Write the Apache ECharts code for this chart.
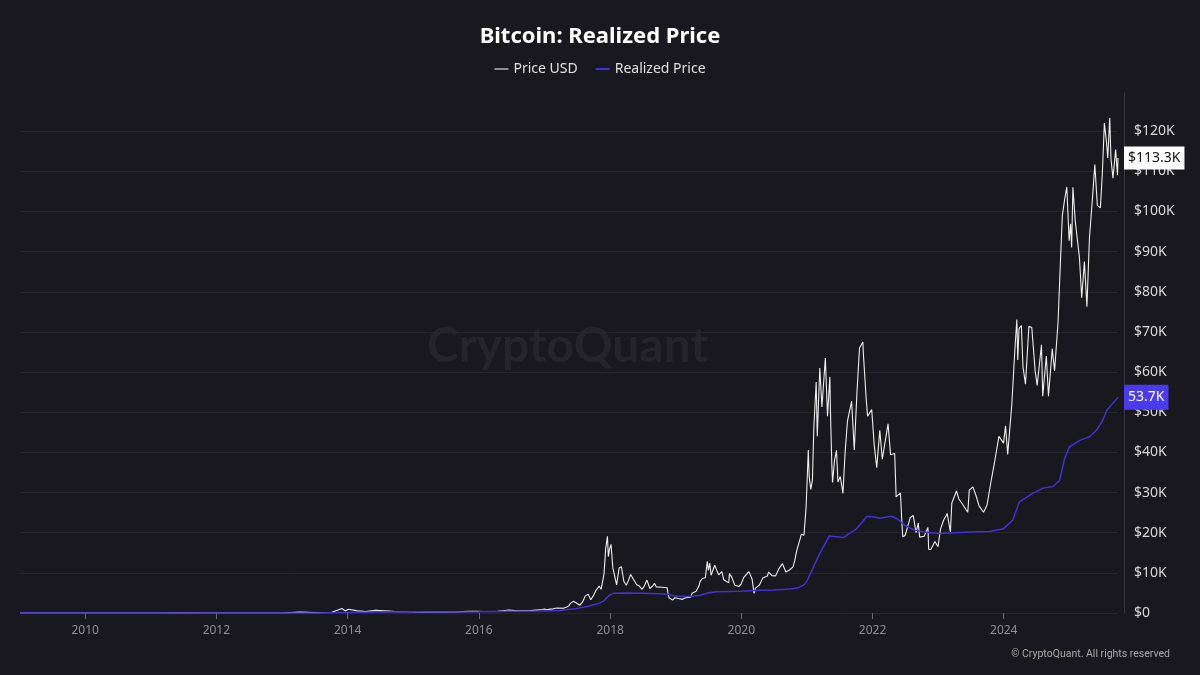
<!DOCTYPE html>
<html>
<head>
<meta charset="utf-8">
<script src="https://cdn.jsdelivr.net/npm/echarts@6/dist/echarts.min.js"></script>
<style>
html,body{margin:0;padding:0;background:#19181e;}
#chart{width:1200px;height:675px;}
</style>
</head>
<body>
<div id="chart"></div>
<script>
const priceDates = [
'2009-01-03','2010-07-17','2011-02-01','2011-06-08','2011-11-18','2012-06-01','2012-12-31','2013-04-09','2013-07-01','2013-10-01',
'2013-11-30','2013-12-18','2014-01-05','2014-02-25','2014-04-10','2014-06-05','2014-08-18','2014-10-05','2014-12-15','2015-01-14',
'2015-03-10','2015-06-01','2015-08-20','2015-11-04','2015-12-20','2016-02-01','2016-04-15','2016-06-17','2016-08-02','2016-10-15',
'2016-12-20',
'2017-01-01','2017-01-15','2017-02-01','2017-02-15','2017-03-01','2017-03-15','2017-03-25','2017-04-15','2017-05-01','2017-05-15',
'2017-05-25','2017-06-10','2017-06-25','2017-07-15','2017-08-01','2017-08-15','2017-09-01','2017-09-15','2017-10-01','2017-10-15',
'2017-11-01','2017-11-12','2017-11-28','2017-12-07','2017-12-17','2017-12-22','2017-12-28',
'2018-01-06','2018-01-16','2018-01-25','2018-02-06','2018-02-20','2018-03-05','2018-03-18','2018-04-01','2018-04-12','2018-04-25','2018-05-05','2018-05-28',
'2018-06-10','2018-06-28','2018-07-10','2018-07-25','2018-08-10','2018-08-25','2018-09-05','2018-09-15','2018-10-15','2018-11-14','2018-11-20',
'2018-11-25','2018-12-15','2018-12-28',
'2019-01-15','2019-02-08','2019-02-25','2019-03-25','2019-04-02','2019-04-25','2019-05-12','2019-05-17','2019-05-30','2019-06-15','2019-06-26',
'2019-07-02','2019-07-10','2019-07-17','2019-07-28','2019-08-06','2019-08-28','2019-09-15','2019-09-25','2019-10-23','2019-10-27','2019-11-10','2019-11-25',
'2019-12-18','2019-12-31',
'2020-01-14','2020-02-12','2020-03-01','2020-03-12','2020-03-20','2020-04-10','2020-04-30','2020-05-10','2020-05-25','2020-06-01','2020-06-20',
'2020-07-10','2020-07-28','2020-08-17','2020-09-05','2020-09-25','2020-10-15','2020-10-25','2020-11-05','2020-11-25','2020-11-30','2020-12-15',
'2020-12-27',
'2021-01-08','2021-01-13','2021-01-22','2021-01-31','2021-02-08','2021-02-21','2021-02-27','2021-03-13','2021-03-25','2021-04-13','2021-04-25',
'2021-05-08','2021-05-12','2021-05-19','2021-05-23','2021-06-03','2021-06-14','2021-06-22','2021-07-05','2021-07-20','2021-08-01','2021-08-14',
'2021-09-06','2021-09-21','2021-10-06','2021-10-20','2021-11-08','2021-11-10','2021-11-26','2021-12-04','2021-12-27',
'2022-01-10','2022-01-24','2022-02-10','2022-02-24','2022-03-28','2022-04-11','2022-05-04','2022-05-12','2022-06-05','2022-06-13',
'2022-06-18','2022-07-01','2022-07-30','2022-08-15','2022-08-31','2022-09-12','2022-09-20','2022-10-15','2022-11-05','2022-11-09',
'2022-11-21','2022-12-14','2022-12-31',
'2023-01-14','2023-01-31','2023-02-15','2023-02-20','2023-03-10','2023-03-18','2023-04-13','2023-04-26','2023-05-15','2023-06-15',
'2023-06-23','2023-07-13','2023-07-31','2023-08-17','2023-09-11','2023-09-30','2023-10-23','2023-11-10','2023-12-05','2023-12-31',
'2024-01-11','2024-01-23','2024-02-15','2024-02-28','2024-03-05','2024-03-14','2024-03-19','2024-03-26','2024-04-08','2024-04-17','2024-05-01',
'2024-05-20','2024-06-05','2024-06-24','2024-07-05','2024-07-29','2024-08-05','2024-08-25','2024-09-06','2024-09-27','2024-10-10',
'2024-10-29','2024-11-12','2024-11-22','2024-12-05','2024-12-17','2024-12-30',
'2025-01-07','2025-01-13','2025-01-20','2025-02-02','2025-02-25','2025-03-10','2025-03-25','2025-04-08','2025-04-22','2025-05-10','2025-05-22',
'2025-06-05','2025-06-22','2025-07-03','2025-07-14','2025-07-25','2025-08-02','2025-08-13','2025-08-20','2025-08-31','2025-09-15','2025-09-25',
'2025-09-28'
];
const priceValues = [
0,0.05,1,29,2.3,5.3,13.5,230,90,125,
1130,520,950,530,360,660,470,320,350,180,
290,225,235,400,440,375,430,760,520,640,
890,
1000,820,970,1010,1190,1240,960,1180,1420,1730,
2400,2900,2550,1930,2740,4200,4700,3300,4400,5700,
6700,5900,9800,16000,19100,14000,15800,
17100,11300,11600,7000,11200,11500,7900,6900,8000,9600,9800,7100,
6800,5900,6700,8200,6100,6700,7400,6500,6400,6300,4600,
3800,3200,3800,
3600,3400,3800,3950,4900,5400,7000,7900,8600,8800,12900,
10600,12400,9400,9500,11900,9500,10300,8300,7500,9800,8800,7000,
6600,7200,
8800,10300,8500,4900,6200,6900,8700,8600,9200,10200,9300,
9250,11000,12300,10200,10700,11500,13100,15600,18700,19600,19400,
26500,
40600,34000,30800,33100,46300,57500,44000,61000,51300,63500,49000,
58800,49000,37000,32500,38000,40500,32600,34000,29800,40000,47800,
52700,40600,55000,66000,67500,65000,53500,49000,50700,
41800,36200,45500,38300,47100,39400,39700,28900,29900,22500,
19000,19300,23800,24300,20000,22400,18900,19100,21300,15900,
15800,17800,16500,
20900,23100,24300,24800,20200,27400,30400,28400,27200,25100,
30600,31400,29200,26600,25100,26900,33000,37300,44000,42300,
46600,39500,52000,62500,67000,73100,63000,70800,71600,61300,57000,
71400,71100,60300,56700,66800,54000,64000,54000,65800,60300,
72300,88000,98900,103000,106100,92700,
96900,91000,106000,97600,88700,78500,87500,76300,93400,104000,111700,
101500,100900,109600,122000,117600,113300,123300,113000,108300,115400,109000,
113300
];
const realizedDates = [
'2009-01-03','2011-01-01','2012-01-01','2013-01-01','2013-07-01','2013-12-31','2014-06-30','2015-01-01','2015-06-30','2016-01-01',
'2016-06-30','2016-12-31','2017-03-31','2017-06-30','2017-09-01','2017-10-31','2017-11-30','2017-12-15','2017-12-31','2018-01-20',
'2018-04-01','2018-07-01','2018-10-01','2018-11-20','2018-12-20','2019-01-31','2019-03-31','2019-05-15','2019-06-30','2019-08-15',
'2019-12-31','2020-03-15','2020-06-30','2020-09-30','2020-11-15','2020-12-15','2021-01-01','2021-01-31','2021-03-10','2021-05-05',
'2021-06-15','2021-07-25','2021-08-15','2021-09-30','2021-12-01','2022-01-10','2022-02-10','2022-04-15','2022-05-20','2022-06-30',
'2022-08-20','2022-10-15','2023-01-05','2023-04-01','2023-07-01','2023-10-15','2023-12-31','2024-02-20','2024-03-28','2024-06-10',
'2024-08-07','2024-10-01','2024-11-07','2024-12-05','2025-01-01','2025-02-28','2025-04-22','2025-05-31','2025-07-05','2025-07-28',
'2025-09-28'
];
const realizedValues = [
0,0.2,3,5,20,120,220,310,280,300,
410,520,650,1150,1700,2400,3100,3900,4500,4900,
4950,4900,4800,4650,4300,4100,4150,4400,5000,5300,
5400,5600,5750,6000,6300,7000,8000,10900,14600,19200,
19000,18800,19500,20800,24100,23900,23600,24100,23400,21800,
20700,20200,19800,20000,20200,20300,21000,23100,27700,29800,
31100,31500,33000,38500,41400,43000,43900,45500,48000,50500,
53700
];
const yTicks = [0,10000,20000,30000,40000,50000,60000,70000,80000,90000,100000,110000,120000];
const xTickYears = [2010,2012,2014,2016,2018,2020,2022,2024];

const ts = d => Date.parse(d + 'T00:00:00Z');
const priceData = priceDates.map((d,i)=>[ts(d), priceValues[i]]);
const realizedData = realizedDates.map((d,i)=>[ts(d), realizedValues[i]]);
const xTickValues = xTickYears.map(y => Date.UTC(y, 0, 1));
const fmtK = v => (v/1000).toFixed(1) + 'K';
const FONT = 'Noto Sans';

const chart = echarts.init(document.getElementById('chart'));
chart.setOption({
  backgroundColor: '#19181e',
  animation: false,
  textStyle: {fontFamily: FONT},
  title: {
    text: 'Bitcoin: Realized Price',
    left: 'center', top: 21,
    textStyle: {color: '#ffffff', fontSize: 22, fontWeight: 'bold', fontFamily: FONT}
  },
  legend: {
    top: 57, left: 'center',
    icon: 'rect', itemWidth: 14, itemHeight: 2, itemGap: 18,
    textStyle: {color: '#e0e0e0', fontSize: 14, fontFamily: FONT},
    data: [
      {name: 'Price USD', itemStyle: {color: '#8c8c8c'}},
      {name: 'Realized Price', itemStyle: {color: '#4430d8'}}
    ]
  },
  graphic: [
    {type: 'text', left: 427, top: 323, z: 0, silent: true,
     style: {text: 'CryptoQuant', fill: '#25242b', font: 'bold 48px Lato'}},
    {type: 'text', right: 30, top: 649, silent: true,
     style: {text: '© CryptoQuant. All rights reserved', fill: '#a8a8a8', font: '10.5px Roboto'}}
  ],
  grid: {left: 20, right: 82, top: 93, bottom: 62},
  xAxis: {
    type: 'value',
    min: ts('2009-01-03'), max: ts('2025-09-28'),
    axisLine: {show: false},
    axisTick: {show: true, length: 6, lineStyle: {color: '#6a6970'}, customValues: xTickValues},
    axisLabel: {color: '#8e8e94', fontSize: 12, margin: 12, customValues: xTickValues,
      formatter: v => String(new Date(v).getUTCFullYear())},
    splitLine: {show: false}
  },
  yAxis: {
    type: 'value', position: 'right', offset: 6,
    min: 0, max: 129500, interval: 10000,
    axisLine: {show: true, lineStyle: {color: '#3a3940', width: 1}},
    axisTick: {show: false},
    axisLabel: {
      color: '#d8d8d8', fontSize: 14, margin: 10, showMaxLabel: false,
      formatter: v => yTicks.indexOf(v) < 0 ? '' : (v === 0 ? '$0' : '$' + (v/1000) + 'K')
    },
    splitLine: {show: true, showMaxLine: false, lineStyle: {color: '#27262d', width: 1}}
  },
  series: [
    {
      name: 'Price USD', type: 'line', data: priceData, showSymbol: false,
      lineStyle: {color: '#eeeeee', width: 1.1}, itemStyle: {color: '#eeeeee'},
      z: 3,
      endLabel: {
        show: true, distance: 6,
        formatter: p => '$' + fmtK(p.value[1]),
        backgroundColor: '#ffffff', color: '#111111', fontSize: 14,
        padding: [5, 4, 4, 4], fontFamily: FONT
      }
    },
    {
      name: 'Realized Price', type: 'line', data: realizedData, showSymbol: false,
      lineStyle: {color: '#4430d8', width: 1.5}, itemStyle: {color: '#4430d8'},
      z: 4,
      endLabel: {
        show: true, distance: 6,
        formatter: p => fmtK(p.value[1]),
        backgroundColor: '#4b3bef', color: '#ffffff', fontSize: 14,
        padding: [6, 4, 5, 4], fontFamily: FONT
      }
    }
  ]
});
</script>
</body>
</html>
